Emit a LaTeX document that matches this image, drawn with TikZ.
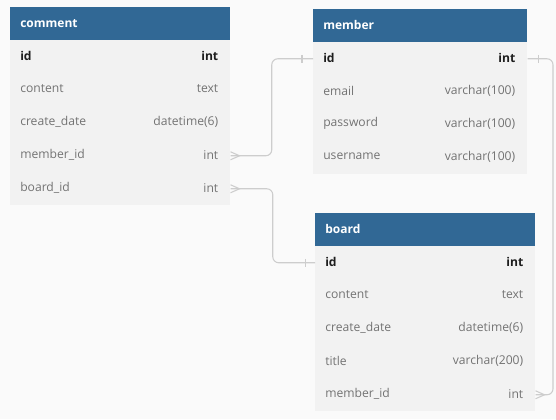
\documentclass[tikz,border=0pt]{standalone}
\usepackage{fontspec}
\usetikzlibrary{calc}
\setmainfont{Open Sans}
\definecolor{hdr}{HTML}{316895}
\definecolor{rowbg}{HTML}{F2F2F2}
\definecolor{pagebg}{HTML}{FAFAFA}
\definecolor{fieldgray}{HTML}{737373}
\definecolor{keyblack}{HTML}{1E1E1E}
\definecolor{linkgray}{HTML}{CDCDCD}
\newcommand\erhead[5]{% name, x, y, width(pt), title
  \node[hdrbox, minimum width=#4] (#1) at (#2,#3) {};
  \node[hdrtext] at ([xshift=7.5pt,yshift=0.5pt]#1.west) {#5};}
\newcommand\errow[8]{% name, x, y, width, field, type, textstyle, right pad
  \node[rowbox, minimum width=#4] (#1) at (#2,#3) {};
  \node[#7, anchor=west] at ([xshift=7.5pt,yshift=0.8pt]#1.west) {#5};
  \node[#7, anchor=east] at ([xshift=-#8,yshift=0.8pt]#1.east) {#6};}
\begin{document}
\begin{tikzpicture}[x=0.75pt,y=-0.75pt,
  hdrbox/.style={fill=hdr, draw=none, anchor=north west, minimum height=24.75pt, inner sep=0pt},
  rowbox/.style={fill=rowbg, draw=none, anchor=north west, minimum height=24.75pt, inner sep=0pt},
  hdrtext/.style={anchor=west, inner sep=0pt, text=white, font=\bfseries\fontsize{9}{10}\selectfont},
  keytext/.style={inner sep=0pt, text=keyblack, font=\bfseries\fontsize{9.1}{10}\selectfont},
  fieldtext/.style={inner sep=0pt, text=fieldgray, font=\fontsize{9.1}{10}\selectfont},
  link/.style={draw=linkgray, line width=0.8pt},
  corner/.style={link, rounded corners=4.5pt}]
\fill[pagebg] (0,0) rectangle (556,419);
\useasboundingbox (0,0) rectangle (556,419);
% comment
\erhead{c-h}{10}{7}{165pt}{comment}
\errow{c-id}{10}{40}{165pt}{id}{int}{keytext}{9pt}
\errow{c-content}{10}{73}{165pt}{content}{text}{fieldtext}{9pt}
\errow{c-date}{10}{106}{165pt}{create\_date}{datetime(6)}{fieldtext}{9pt}
\errow{c-member}{10}{139}{165pt}{member\_id}{int}{fieldtext}{9pt}
\errow{c-board}{10}{172}{165pt}{board\_id}{int}{fieldtext}{9pt}
% member
\erhead{m-h}{313}{9}{160.5pt}{member}
\errow{m-id}{313}{42}{160.5pt}{id}{int}{keytext}{9pt}
\errow{m-email}{313}{75}{160.5pt}{email}{varchar(100)}{fieldtext}{9pt}
\errow{m-pass}{313}{108}{160.5pt}{password}{varchar(100)}{fieldtext}{9pt}
\errow{m-user}{313}{141}{160.5pt}{username}{varchar(100)}{fieldtext}{9pt}
% board
\erhead{b-h}{315}{213}{165pt}{board}
\errow{b-id}{315}{246}{165pt}{id}{int}{keytext}{9pt}
\errow{b-content}{315}{279}{165pt}{content}{text}{fieldtext}{9pt}
\errow{b-date}{315}{312}{165pt}{create\_date}{datetime(6)}{fieldtext}{9pt}
\errow{b-title}{315}{345}{165pt}{title}{varchar(200)}{fieldtext}{9pt}
\errow{b-member}{315}{378}{165pt}{member\_id}{int}{fieldtext}{9pt}
% connectors
\coordinate (rightrail) at (553,0);
\draw[corner] (c-member.east) -| ($(c-member.east)!0.5!(m-id.west)$) |- (m-id.west);
\draw[corner] (c-board.east) -| ($(c-board.east)!0.5!(b-id.west)$) |- (b-id.west);
\draw[corner] (m-id.east) -- (m-id.east -| rightrail) -- (b-member.east -| rightrail) -- (b-member.east);
% crow's feet (many)
\draw[link] ([shift={(0,-4)}]c-member.east) -- ([shift={(9,0)}]c-member.east) -- ([shift={(0,4)}]c-member.east);
\draw[link] ([shift={(0,-4)}]c-board.east) -- ([shift={(9,0)}]c-board.east) -- ([shift={(0,4)}]c-board.east);
\draw[link] ([shift={(0,-4)}]b-member.east) -- ([shift={(9,0)}]b-member.east) -- ([shift={(0,4)}]b-member.east);
% one ticks
\draw[link] ([shift={(-11,-4)}]m-id.west) -- ([shift={(-11,4)}]m-id.west);
\draw[link] ([shift={(-9.5,-4)}]b-id.west) -- ([shift={(-9.5,4)}]b-id.west);
\draw[link] ([shift={(10.5,-4)}]m-id.east) -- ([shift={(10.5,4)}]m-id.east);
\end{tikzpicture}
\end{document}
